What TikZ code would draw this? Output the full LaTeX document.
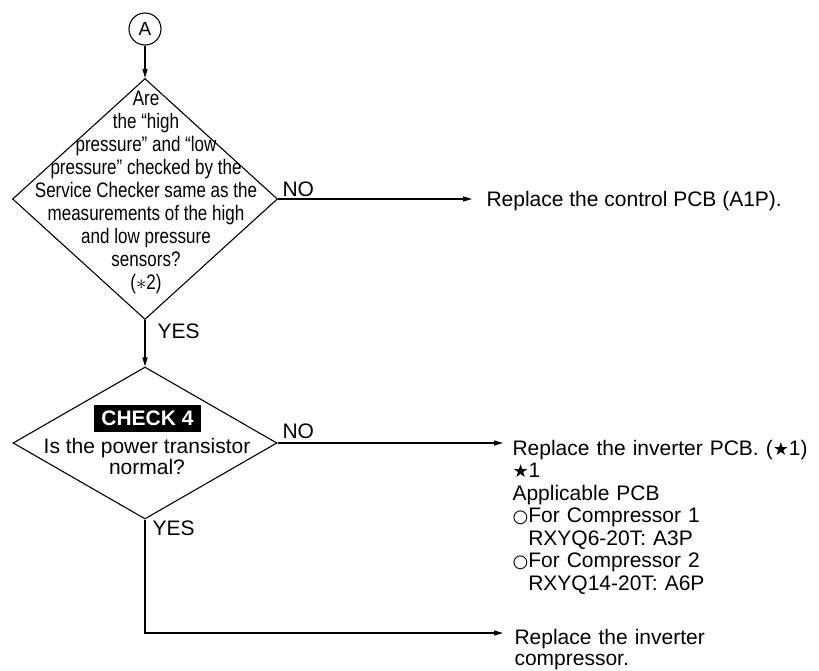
\documentclass[tikz,border=0pt]{standalone}
\usepackage{fontspec}
\setmainfont{Liberation Sans}
\newfontfamily\narrowfont[FakeStretch=0.81]{Liberation Sans}
\newfontfamily\dejavu{DejaVu Sans}
\usetikzlibrary{arrows.meta,calc,shapes.geometric}
\newcommand{\pstar}{{\fontsize{18}{18}\dejavu ★}}
\newcommand{\pcirc}{{\fontsize{18}{18}\dejavu ○}}

\begin{document}
\begin{tikzpicture}[x=1pt,y=-1pt,
 font=\fontsize{21}{22.5}\selectfont,
 line width=1.1pt,
 dec/.style={draw=black,shape=diamond,inner sep=0pt},
 conn/.style={draw=black,circle,inner sep=0pt,minimum size=32pt,font=\fontsize{19}{19}\selectfont},
 flow/.style={-{Triangle[length=9pt,width=5pt]}},
 lbl/.style={inner sep=0pt,anchor=base west},
 res/.style={inner sep=0pt,anchor=base west,align=left,text width=300pt},
 tag/.style={fill=black,text=white,font=\fontsize{21}{21}\selectfont\bfseries,inner sep=0pt,minimum width=107pt,minimum height=27pt}]
\useasboundingbox (0,0) rectangle (819,670);
\node[conn] (A) at (145,29) {A};
\node[dec,minimum width=265pt,minimum height=241pt] (q1) at (145,199) {};
\node[align=center,inner sep=0pt,font=\fontsize{21}{23}\selectfont\narrowfont] (q1txt) at (146,192)
 {Are\\the “high\\pressure” and “low\\pressure” checked by the\\Service Checker same as the\\measurements of the high\\and low pressure\\sensors?\\($\ast$2)};
\draw[flow] (A) -- (q1);
\coordinate (t1) at (472,199);
\draw[flow] (q1.east) -- (t1);
\node[lbl] (no1) at (282,196.5) {NO};
\node[lbl] (r1) at ($(t1)+(14,7.5)$) {Replace the control PCB (A1P).};
\node[lbl] (yes1) at (157,338) {YES};
\node[dec,minimum width=264pt,minimum height=152pt] (q2) at (145,443) {};
\draw[flow] (q1) -- (q2);
\node[tag] (chk) at (147.5,418.5) {CHECK 4};
\node[align=center,inner sep=0pt,font=\fontsize{21}{21}\selectfont] (q2txt) at (147,456)
 {Is the power transistor\\normal?};
\node[lbl] (no2) at (282,438) {NO};
\coordinate (t2) at (503,443);
\draw[flow] (q2.east) -- (t2);
\node[res] (r2) at ($(t2)+(9,12)$) {Replace the inverter PCB. (\pstar1)\\\pstar1\\Applicable PCB\\\pcirc For Compressor 1\\\phantom{\pcirc}RXYQ6-20T: A3P\\\pcirc For Compressor 2\\\phantom{\pcirc}RXYQ14-20T: A6P};
\node[lbl] (yes2) at (152,535) {YES};
\coordinate (t3) at (503,633);
\draw[flow] (q2.south) |- (t3);
\node[res,font=\fontsize{21}{21}\selectfont] (r3) at ($(t3)+(11,11)$) {Replace the inverter\\compressor.};
\end{tikzpicture}
\end{document}
